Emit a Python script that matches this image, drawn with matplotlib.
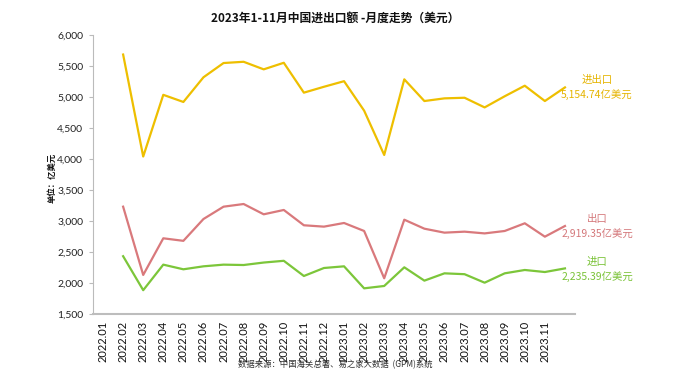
import matplotlib
matplotlib.use("Agg")
import matplotlib.pyplot as plt
import numpy as np

plt.rcParams['font.family'] = ['Noto Sans CJK SC', 'DejaVu Sans']

tick_labels = ['2022.01', '2022.02', '2022.03', '2022.04', '2022.05', '2022.06',
               '2022.07', '2022.08', '2022.09', '2022.10', '2022.11', '2022.12',
               '2023.01', '2023.02', '2023.03', '2023.04', '2023.05', '2023.06',
               '2023.07', '2023.08', '2023.09', '2023.10', '2023.11']

# values plotted at category slots 1..23 (slot 0 empty, as in the reference)
total = [np.nan, 5685, 4040, 5035, 4920, 5318, 5548, 5568, 5446, 5552, 5070, 5165,
         5255, 4780, 4065, 5285, 4935, 4978, 4988, 4832, 5012, 5182, 4935, 5154.74]
export = [np.nan, 3231, 2130, 2721, 2680, 3032, 3231, 3274, 3108, 3178, 2931, 2909,
          2968, 2839, 2076, 3021, 2876, 2812, 2828, 2800, 2839, 2963, 2747, 2919.35]
imports = [np.nan, 2432, 1884, 2296, 2221, 2269, 2296, 2290, 2330, 2358, 2113, 2242,
           2269, 1914, 1952, 2253, 2038, 2156, 2142, 2005, 2156, 2210, 2177, 2235.39]

c_total = '#EEBF00'
c_exp = '#D9797C'
c_imp = '#7CC63A'

fig = plt.figure(figsize=(6.8, 3.81), dpi=100)
ax = fig.add_axes([93/680, 1-314/381, (575-93)/680, (314-35)/381])

x = np.arange(len(total))
ax.plot(x, total, color=c_total, lw=1.6)
ax.plot(x, export, color=c_exp, lw=1.6)
ax.plot(x, imports, color=c_imp, lw=1.6)

ax.set_xlim(-0.5, len(total) - 0.5)
ax.set_ylim(1500, 6000)
ax.set_yticks(np.arange(1500, 6001, 500))
ax.set_yticklabels([f'{v:,}' for v in range(1500, 6001, 500)], fontsize=7.5,
                   family=['Lato', 'DejaVu Sans'], color='#222222')
ax.set_xticks(np.arange(len(tick_labels)))
ax.set_xticklabels(tick_labels, rotation=90, fontsize=8,
                   family=['Lato', 'DejaVu Sans'], color='#111111')
ax.tick_params(axis='x', length=0, pad=5)
ax.tick_params(axis='y', length=3, color='#bbbbbb', width=0.8, pad=4)

for s in ['top', 'right']:
    ax.spines[s].set_visible(False)
ax.spines['left'].set_color('#bbbbbb')
ax.spines['left'].set_linewidth(0.8)
ax.spines['bottom'].set_color('#bdbdbd')
ax.spines['bottom'].set_linewidth(1.5)

fig.text(335/680, 1-18/381, '2023年1-11月中国进出口额 -月度走势（美元）', ha='center', va='center',
         fontsize=8.5, fontweight='bold', color='#111111')
fig.text(52/680, 1-178/381, '单位：亿美元', rotation=90, ha='center', va='center',
         fontsize=6, fontweight='bold', color='#111111')
fig.text(335/680, 1-365/381, '数据来源：中国海关总署、易之家大数据  (GPM)系统', ha='center', va='center',
         fontsize=6, color='#333333')

def lab(name, val, color, y1, y2):
    fig.text(597/680, 1-y1/381, name, ha='center', va='center', fontsize=7.5, color=color)
    fig.text(597/680, 1-y2/381, f'{val:,.2f}亿美元', ha='center', va='center', fontsize=7.5,
             color=color)

lab('进出口', total[-1], '#E5B400', 80, 95)
lab('出口', export[-1], '#D4777A', 219, 234)
lab('进口', imports[-1], '#79C236', 262, 277)

fig.savefig('out.png', dpi=100, facecolor='white')
